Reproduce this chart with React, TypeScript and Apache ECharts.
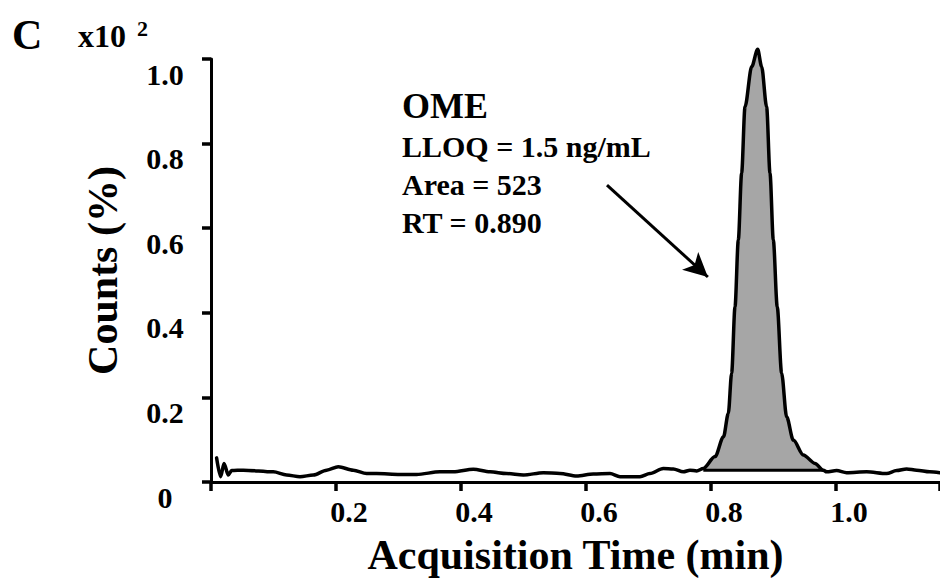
import React, { useEffect, useRef } from "react";
import * as echarts from "echarts";

// Acquisition time (min) and counts (x10^2 %)
const timeMin = [
  0.009, 0.0155, 0.0208, 0.0277, 0.033, 0.0517, 0.0997, 0.121, 0.1424, 0.1637,
  0.185, 0.2037, 0.2277, 0.249, 0.265, 0.3024, 0.329, 0.3664, 0.3877, 0.4197,
  0.4464, 0.473, 0.4997, 0.5317, 0.5584, 0.585, 0.6117, 0.6384, 0.6544, 0.6864,
  0.7024, 0.7237, 0.7397, 0.7557, 0.7664, 0.7771,
  0.7877, 0.8064, 0.82, 0.8277, 0.833, 0.8384, 0.8437, 0.849, 0.8544, 0.8651, 0.8747,
  0.881, 0.889, 0.8944, 0.8997, 0.906, 0.913, 0.921, 0.9317, 0.9477, 0.9664, 0.9797,
  0.985, 1.001, 1.017, 1.049, 1.081, 1.097, 1.113, 1.129, 1.15, 1.166,
];
const counts = [
  0.057, 0.0125, 0.044, 0.0165, 0.027, 0.028, 0.024, 0.0165, 0.0125, 0.0165,
  0.028, 0.036, 0.028, 0.02, 0.02, 0.018, 0.018, 0.024, 0.024, 0.03,
  0.024, 0.02, 0.0165, 0.022, 0.02, 0.014, 0.019, 0.02, 0.0125, 0.0125,
  0.02, 0.032, 0.031, 0.024, 0.028, 0.026,
  0.032, 0.06, 0.107, 0.162, 0.257, 0.414, 0.572, 0.73, 0.887, 0.982, 1.023,
  0.982, 0.887, 0.73, 0.572, 0.414, 0.257, 0.154, 0.099, 0.064, 0.044, 0.028,
  0.024, 0.027, 0.022, 0.024, 0.02, 0.027, 0.031, 0.028, 0.024, 0.022,
];

// Integrated peak window and its baseline level
const peakStart = 0.7877;
const peakEnd = 0.9797;
const peakBaseline = 0.028;

// Arrow annotation (data coordinates)
const arrowFrom = [0.6336, 0.702];
const arrowTo = [0.795, 0.4846];

const xTicks = [0.2, 0.4, 0.6, 0.8, 1.0];
const annotationTitle = "OME";
const annotationLines = ["LLOQ = 1.5 ng/mL", "Area = 523", "RT = 0.890"];

const FONT = "'Liberation Serif', 'Times New Roman', serif";

export default function App() {
  const ref = useRef<HTMLDivElement>(null);

  useEffect(() => {
    if (!ref.current) return;
    const chart = echarts.init(ref.current, null, { renderer: "svg" });

    const trace = timeMin.map((t, i) => [t, counts[i]]);
    const peak = trace.filter((p) => p[0] >= peakStart && p[0] <= peakEnd);

    const textStyle = {
      fontFamily: FONT,
      fontWeight: "bold" as const,
      fill: "#000",
    };

    chart.setOption({
      animation: false,
      backgroundColor: "#fff",
      grid: { left: 211, right: 0, top: 59, bottom: 100, containLabel: false },
      xAxis: {
        type: "value",
        min: 0,
        max: 1.1664,
        interval: 0.2,
        name: "Acquisition Time (min)",
        nameLocation: "middle",
        nameGap: 52,
        nameTextStyle: { fontFamily: FONT, fontWeight: "bold", fontSize: 42, color: "#000" },
        axisLine: { show: true, lineStyle: { color: "#000", width: 3 } },
        axisTick: {
          show: true,
          inside: false,
          length: 9,
          lineStyle: { color: "#000", width: 3.5 },
        },
        axisLabel: {
          customValues: xTicks,
          formatter: (v: number) => v.toFixed(1),
          fontFamily: FONT,
          fontWeight: "bold",
          fontSize: 30,
          color: "#000",
          margin: 14,
          padding: [0, 0, 0, 26],
        },
        splitLine: { show: false },
      },
      yAxis: {
        type: "value",
        min: 0,
        max: 1.0,
        interval: 0.2,
        name: "Counts (%)",
        nameLocation: "middle",
        nameRotate: 90,
        nameGap: 87,
        nameTextStyle: { fontFamily: FONT, fontWeight: "bold", fontSize: 42, color: "#000" },
        axisLine: { show: true, lineStyle: { color: "#000", width: 3 } },
        axisTick: {
          show: true,
          inside: false,
          length: 9,
          lineStyle: { color: "#000", width: 3.5 },
        },
        axisLabel: {
          formatter: (v: number) => (v === 0 ? "0" : v.toFixed(1)),
          fontFamily: FONT,
          fontWeight: "bold",
          fontSize: 30,
          color: "#000",
          align: "center",
          margin: 46,
          verticalAlign: "top",
        },
        splitLine: { show: false },
      },
      series: [
        {
          type: "line",
          data: peak,
          showSymbol: false,
          symbol: "none",
          smooth: 0.3,
          smoothMonotone: "x",
          clip: false,
          z: 1,
          lineStyle: { width: 0, color: "#a6a6a6" },
          areaStyle: { color: "#a6a6a6", opacity: 1, origin: peakBaseline },
          silent: true,
        },
        {
          type: "line",
          data: [
            [peakStart, peakBaseline],
            [peakEnd, peakBaseline],
          ],
          showSymbol: false,
          symbol: "none",
          z: 2,
          lineStyle: { width: 3, color: "#000" },
          silent: true,
        },
        {
          type: "line",
          data: trace,
          showSymbol: false,
          symbol: "none",
          smooth: 0.3,
          smoothMonotone: "x",
          clip: false,
          z: 3,
          lineStyle: { width: 3.5, color: "#000", join: "round", cap: "round" },
          silent: true,
          markLine: {
            silent: true,
            symbol: ["none", "arrow"],
            symbolSize: [18, 24],
            label: { show: false },
            lineStyle: { color: "#000", width: 3, type: "solid" },
            data: [[{ coord: arrowFrom }, { coord: arrowTo }]],
          },
        },
      ],
      graphic: [
        { type: "text", left: 12, top: 14, style: { ...textStyle, text: "C", fontSize: 42 } },
        { type: "text", left: 78, top: 20, style: { ...textStyle, text: "x10", fontSize: 32 } },
        { type: "text", left: 137, top: 17, style: { ...textStyle, text: "2", fontSize: 22 } },
        { type: "text", left: 402, top: 88, style: { ...textStyle, text: annotationTitle, fontSize: 36 } },
        ...annotationLines.map((t, i) => ({
          type: "text",
          left: 402,
          top: 131 + i * 38,
          style: { ...textStyle, text: t, fontSize: 30 },
        })),
      ],
    });

    return () => chart.dispose();
  }, []);

  return (
    <div
      ref={ref}
      style={{ position: "fixed", left: 0, top: 0, width: 940, height: 582, background: "#fff" }}
    />
  );
}
